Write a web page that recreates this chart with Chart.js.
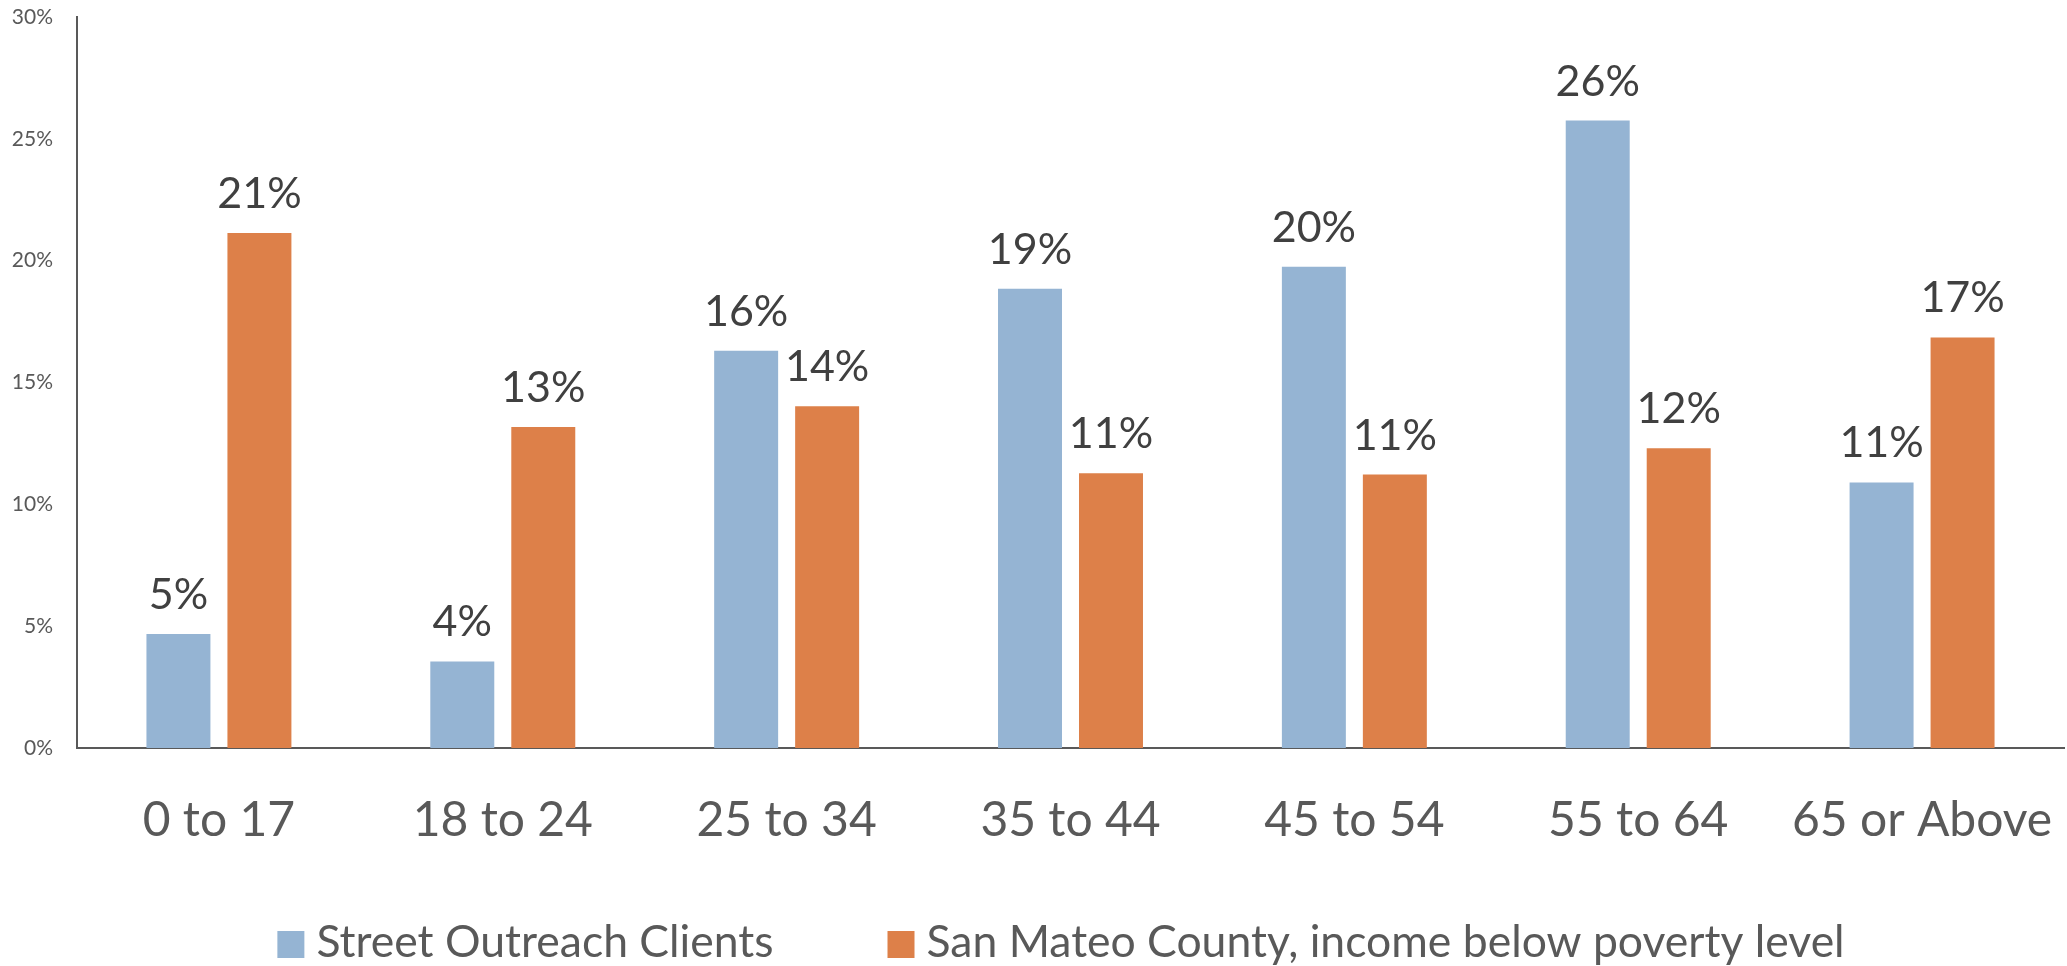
<!DOCTYPE html>
<html>
<head>
<meta charset="utf-8">
<script src="https://cdn.jsdelivr.net/npm/chart.js@4.4.0/dist/chart.umd.min.js"></script>
<style>
  html, body { margin: 0; background: #fff; }
</style>
</head>
<body>
<canvas id="chart" width="2067" height="966"></canvas>
<script>
// data
const categories = ["0 to 17", "18 to 24", "25 to 34", "35 to 44", "45 to 54", "55 to 64", "65 or Above"];
const outreachClients = [4.68, 3.55, 16.3, 18.85, 19.75, 25.75, 10.9];
const countyPoverty = [21.14, 13.17, 14.03, 11.28, 11.22, 12.3, 16.85];
const seriesNames = ["Street Outreach Clients", "San Mateo County, income below poverty level"];
const yTicks = [0, 5, 10, 15, 20, 25, 30];

const BLUE = "#95B4D3";
const ORANGE = "#DD8049";
const AXIS = "#595959";
const FONT = "Lato, 'Open Sans', sans-serif";

// value labels above each bar
const barLabels = {
  id: "barLabels",
  afterDatasetsDraw(chart) {
    const ctx = chart.ctx;
    ctx.save();
    ctx.font = "43px " + FONT;
    ctx.fillStyle = "#404040";
    ctx.textAlign = "center";
    ctx.textBaseline = "alphabetic";
    chart.data.datasets.forEach((ds, i) => {
      chart.getDatasetMeta(i).data.forEach((bar, j) => {
        ctx.fillText(Math.round(ds.data[j]) + "%", bar.x, bar.y - 25);
      });
    });
    ctx.restore();
  }
};

// legend at the bottom, squares + text
const bottomLegend = {
  id: "bottomLegend",
  afterDraw(chart) {
    const ctx = chart.ctx;
    const box = 27, gap = 12, itemGap = 114;
    ctx.save();
    ctx.font = "44.5px " + FONT;
    const widths = chart.data.datasets.map(ds => ctx.measureText(ds.label).width);
    let total = 0;
    widths.forEach((w, i) => { total += box + gap + w + (i ? itemGap : 0); });
    let x = 1061 - total / 2;
    chart.data.datasets.forEach((ds, i) => {
      ctx.fillStyle = ds.backgroundColor;
      ctx.fillRect(x, 931, box, box);
      ctx.fillStyle = AXIS;
      ctx.textAlign = "left";
      ctx.textBaseline = "alphabetic";
      ctx.fillText(ds.label, x + box + gap, 957);
      x += box + gap + widths[i] + itemGap;
    });
    ctx.restore();
  }
};

new Chart(document.getElementById("chart"), {
  type: "bar",
  data: {
    labels: categories,
    datasets: [
      { label: seriesNames[0], data: outreachClients, backgroundColor: BLUE },
      { label: seriesNames[1], data: countyPoverty, backgroundColor: ORANGE }
    ]
  },
  options: {
    responsive: false,
    animation: false,
    layout: { padding: { top: 17, right: 3, left: 0, bottom: 0 } },
    categoryPercentage: 0.5706,
    barPercentage: 0.79,
    plugins: {
      legend: { display: false },
      tooltip: { enabled: false }
    },
    scales: {
      x: {
        grid: { display: false, drawTicks: false },
        border: { color: AXIS, width: 2 },
        ticks: { font: { family: FONT, size: 48 }, color: AXIS, padding: 44 },
        afterFit(scale) {
          scale.height = 218;
          scale.paddingLeft = 0;
          scale.paddingRight = 0;
        }
      },
      y: {
        min: 0,
        max: 30,
        grid: { display: false, drawTicks: false },
        border: { color: AXIS, width: 2 },
        afterBuildTicks(scale) { scale.ticks = yTicks.map(v => ({ value: v })); },
        ticks: {
          font: { family: FONT, size: 21 },
          color: AXIS,
          padding: 24,
          callback: v => v + "%"
        },
        afterFit(scale) {
          scale.width = 77;
          scale.paddingTop = 0;
          scale.paddingBottom = 0;
        }
      }
    }
  },
  plugins: [barLabels, bottomLegend]
});
</script>
</body>
</html>
